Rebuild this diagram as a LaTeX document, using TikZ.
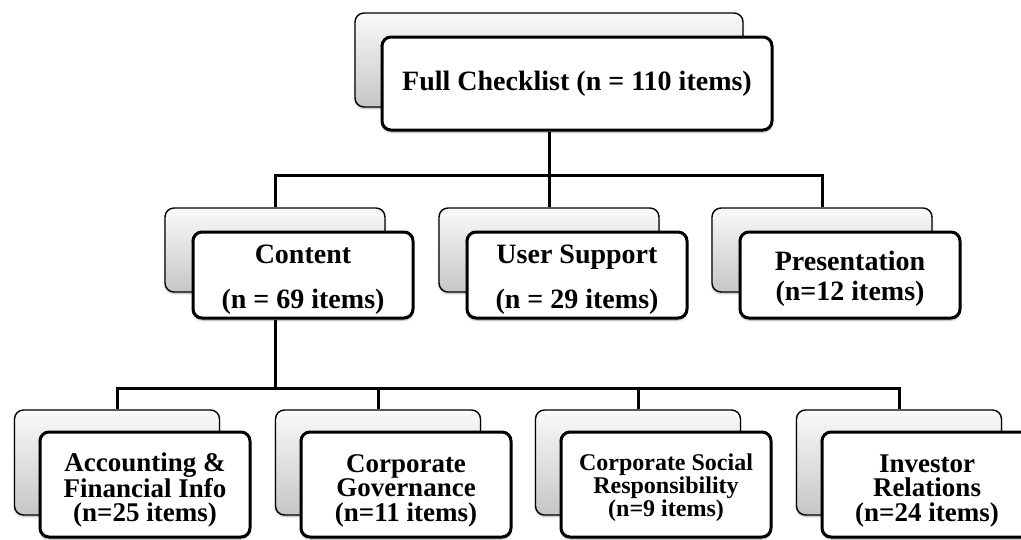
\documentclass[tikz,border=0pt]{standalone}
\usepackage{fontspec}
\setmainfont{Liberation Serif}
\usetikzlibrary{shadows.blur}
\newcommand{\strutto}[1]{\rule{0pt}{#1}}

\begin{document}
\begin{tikzpicture}[x=1pt,y=-1pt]
\tikzstyle{backbox}=[rectangle,rounded corners=9pt,draw,line width=1.4pt,top color=gray!4,bottom color=gray!45,blur shadow={shadow xshift=0pt,shadow yshift=-1.5pt,shadow blur steps=5,shadow opacity=30}]
\tikzstyle{frontbox}=[rectangle,rounded corners=9pt,draw,line width=3pt,fill=white,align=center,inner sep=2pt,font=\bfseries\fontsize{28}{30}\selectfont,blur shadow={shadow xshift=0pt,shadow yshift=-2pt,shadow blur steps=6,shadow opacity=40}]
\tikzstyle{midbox}=[frontbox,minimum width=220pt,minimum height=86pt]
\tikzstyle{leafback}=[backbox,minimum width=205pt,minimum height=105pt]
\tikzstyle{leafbox}=[frontbox,minimum width=210pt,minimum height=105pt,font=\bfseries\fontsize{27}{24.5}\selectfont]
\tikzstyle{conn}=[line width=3pt]
\useasboundingbox (0,0) rectangle (1021,539);
\clip (0,0) rectangle (1021,539);
% top
\node[backbox,minimum width=388pt,minimum height=94pt] (fullbg) at (549,60) {};
\node[frontbox,minimum width=390pt,minimum height=93pt] (full) at (577,83.5) {Full Checklist (n = 110 items)};
% second level
\node[backbox,minimum width=220pt,minimum height=84pt] (contentbg) at (275,250) {};
\node[midbox] (content) at (303,275) {\strutto{27pt}Content\\[15pt](n = 69 items)};
\node[backbox,minimum width=220pt,minimum height=84pt] (supportbg) at (549,250) {};
\node[midbox] (support) at (577,275) {\strutto{27pt}User Support\\[15pt](n = 29 items)};
\node[backbox,minimum width=220pt,minimum height=84pt] (presentbg) at (822,250) {};
\node[midbox] (present) at (850,275) {\strutto{27pt}Presentation\\(n=12 items)};
% third level
\node[leafback] (acctbg) at (117,462.5) {};
\node[leafbox] (acct) at (145,484.5) {\strutto{30pt}Accounting \&\\Financial Info\\(n=25 items)};
\node[leafback] (govbg) at (378,462.5) {};
\node[leafbox] (gov) at (406,484.5) {\strutto{30pt}Corporate\\Governance\\(n=11 items)};
\node[leafback] (csrbg) at (638,462.5) {};
\node[leafbox,font=\bfseries\fontsize{24}{23}\selectfont] (csr) at (666,484.5) {\strutto{24pt}Corporate Social\\Responsibility\\(n=9 items)};
\node[leafback] (invbg) at (899,462.5) {};
\node[leafbox] (inv) at (927,484.5) {\strutto{30pt}Investor\\Relations\\(n=24 items)};
% connectors
\coordinate (bus1) at (549,175);
\draw[conn] (full.south -| fullbg) -- (bus1);
\foreach \n in {contentbg,supportbg,presentbg} \draw[conn] (bus1) -| (\n.north);
\coordinate (bus2) at (275,388);
\draw[conn] (content.south -| contentbg) -- (bus2);
\foreach \n in {acctbg,govbg,csrbg,invbg} \draw[conn] (bus2) -| (\n.north);
\end{tikzpicture}
\end{document}
